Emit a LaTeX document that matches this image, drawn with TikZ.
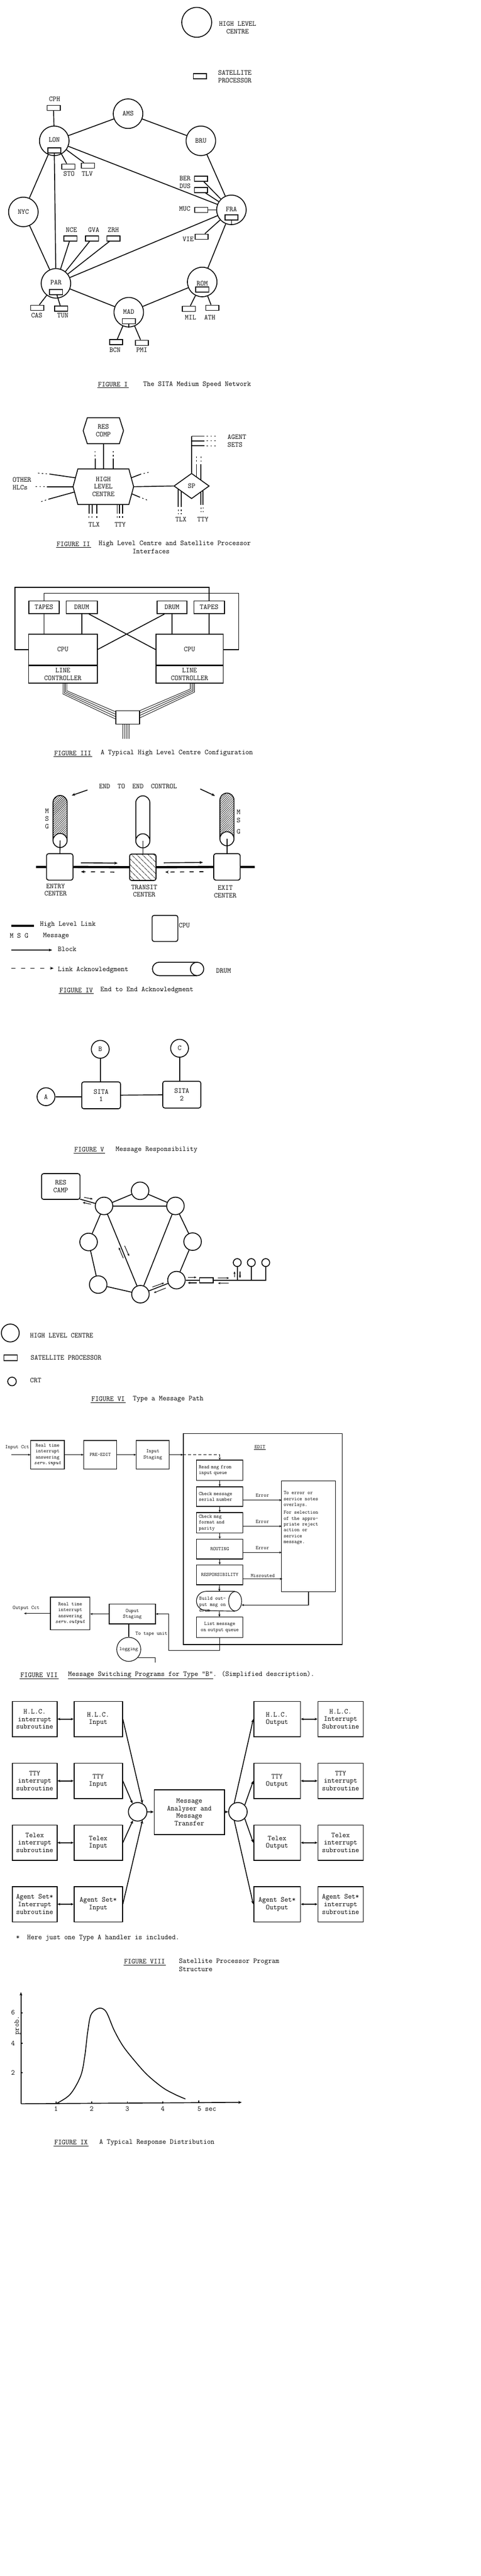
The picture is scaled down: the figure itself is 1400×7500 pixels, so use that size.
\documentclass[tikz,border=0pt]{standalone}
\usepackage{fontspec}
\usetikzlibrary{calc}
\usetikzlibrary{positioning}
\usetikzlibrary{arrows.meta}
\usetikzlibrary{shapes.geometric}
\usetikzlibrary{patterns.meta}

\newcommand\hexoutline[2]{\draw ([xshift=#2]#1.north west) -- ([xshift=-#2]#1.north east) -- (#1.east) -- ([xshift=-#2]#1.south east) -- ([xshift=#2]#1.south west) -- (#1.west) -- cycle;}
\newcommand\drumup[5]{\draw[#5] (#2-20.5,#4) -- (#2-20.5,#3+20.5) arc[start angle=180, end angle=360, radius=20.5] -- (#2+20.5,#4);
  \node[circle, draw, fill=white, minimum size=41pt, inner sep=0pt] (#1) at (#2,#4) {};}

\begin{document}
\begin{tikzpicture}[x=1pt, y=-1pt, line width=2.5pt,
  font=\fontsize{21}{22}\selectfont\ttfamily,
  hlc/.style={circle, draw, minimum size=86pt, inner sep=0pt},
  hlcs/.style={circle, draw, minimum size=51pt, inner sep=0pt},
  sat/.style={rectangle, draw, minimum width=38pt, minimum height=15pt, inner sep=0pt},
  box/.style={rectangle, draw, inner sep=0pt, align=center},
  cpu/.style={rectangle, draw, rounded corners=6pt, minimum width=77pt, minimum height=77pt, inner sep=0pt, align=center},
  figtag/.style={inner xsep=1pt, append after command={([yshift=-4pt]\tikzlastnode.base west) edge[line width=1.5pt] ([yshift=-4pt]\tikzlastnode.base east)}},
  blk/.style={-{Stealth[length=10pt, width=8pt]}},
  ack/.style={blk, dash pattern=on 12pt off 16pt},
  dbl/.style={{Stealth[length=8pt, width=7pt]}-{Stealth[length=8pt, width=7pt]}},
  dots/.style={line width=1.8pt, dash pattern=on 4pt off 7pt, dash phase=4pt},
  flow/.style={-{Stealth[length=7pt, width=6pt]}, line width=1.6pt},
  pa/.style={-{Stealth[length=7pt, width=6pt]}}]
\path[use as bounding box, fill=white] (0,0) rectangle (1400,7500);

\node[hlc, minimum size=87pt] (keyHLC) at (573,65) {};
\node[align=center] at (692,81) {HIGH LEVEL\\CENTRE};
\node[sat] (keySP) at (582,222) {};
\node[align=center] at (684,223) {SATELLITE\\PROCESSOR};
\foreach \n/\x/\y in {AMS/373/331, LON/158/410, BRU/585/410, NYC/68/617, FRA/674/611, PAR/163/825, ROM/589/821, MAD/375/909}
  \node[hlc] (\n) at (\x,\y) {};
\foreach \n in {AMS,BRU,NYC}
  \node at (\n) {\n};
\foreach \n/\dy/\dr in {LON/-3/28, FRA/-2/22, PAR/-3/25, ROM/4/22, MAD/-1/26}
{
  \node at ($(\n)+(0,\dy)$) {\n};
  \node[sat] (sp\n) at ($(\n)+(0,\dr)$) {};
}
\foreach \n/\x/\y/\lx/\ly in {CPH/156/314/159/288, STO/199/485/201/506, TLV/256/482/254/506, BER/585/520/539/520, DUS/585/553/539/542, MUC/586/611/538/608, VIE/587/689/548/697, NCE/205/694/208/669, GVA/268/694/273/670, ZRH/330/694/330/670, CAS/108/896/107/918, TUN/178/898/183/919, MIL/550/899/555/924, ATH/618/896/611/924, BCN/338/996/335/1019, PMI/413/998/413/1019}
{
  \node[sat] (\n) at (\x,\y) {};
  \node at (\lx,\ly) {\n};
}
\draw (LON) -- (AMS) -- (BRU) -- (FRA) -- (ROM) -- (MAD) -- (PAR) -- (NYC) -- (LON);
\draw (LON) -- (FRA);
\draw (PAR) -- (FRA);
\draw (spLON) -- (PAR);
\draw (CPH) -- (LON);
\draw (LON) -- (STO);
\draw (LON) -- (TLV);
\foreach \n in {BER,DUS,MUC,VIE}
  \draw (\n) -- (FRA);
\foreach \n in {NCE,GVA,ZRH,CAS}
  \draw (\n) -- (PAR);
\draw (spPAR) -- (TUN);
\draw (spFRA) -- (spFRA |- FRA.south);
\draw (spMAD) -- (spMAD |- MAD.south);
\draw (ROM) -- (MIL);
\draw (ROM) -- (ATH);
\draw (MAD) -- (BCN);
\draw (MAD) -- (PMI);
\node[figtag] at (329,1119) {FIGURE I};
\node at (574,1120) {The SITA Medium Speed Network};

\node[minimum width=115pt, minimum height=73pt, align=center] (rescomp) at (301,1254) {RES\\COMP};
\hexoutline{rescomp}{12pt}
\node[minimum width=174pt, minimum height=101pt, align=center] (centre) at (301,1417) {HIGH\\LEVEL\\CENTRE};
\hexoutline{centre}{14pt}
\node[diamond, draw, aspect=1.4, minimum width=103pt, minimum height=74pt, inner sep=0pt] (sp) at (558,1415) {SP};
\draw (rescomp) -- (centre);
\foreach \dx in {-24,29}
{
  \draw ([xshift=\dx pt]centre.north) -- ++(0,-30) coordinate (t);
  \draw[dots] (t) -- ++(0,-21);
}
\draw ($(centre.west)!0.5!([xshift=14pt]centre.north west)$) -- ++(-76,-11) coordinate (o1);
\draw[dots] (o1) -- ++(-36,-3);
\draw (centre.west) -- ++(-76,0) coordinate (o2);
\draw[dots] (o2) -- ++(-35,0);
\draw ($(centre.west)!0.3!([xshift=14pt]centre.south west)$) -- ++(-76,21) coordinate (o3);
\draw[dots] (o3) -- ++(-27,9);
\draw ($(centre.east)!0.5!([xshift=-14pt]centre.north east)$) -- ++(29,-11) coordinate (o4);
\draw[dots] (o4) -- ++(22,-5);
\draw ($(centre.east)!0.4!([xshift=-14pt]centre.south east)$) -- ++(24,10) coordinate (o5);
\draw[dots] (o5) -- ++(23,9);
\node[align=left] at (64,1408) {OTHER\\HLCs};
\draw (centre.east) -- (sp.west);
\draw (sp.north) -- ++(0,-107) coordinate (ag1);
\foreach \dy in {0,14,28}
{
  \draw ([yshift=-\dy pt]ag1) -- ++(37,0) coordinate (ag);
  \draw[dots] (ag) -- ++(37,0);
}
\node[align=left] at (690,1284) {AGENT\\SETS};
\draw ($(sp.north)!0.27!(sp.east)$) -- ++(0,-36) coordinate (u1);
\draw[dots] (u1) -- ++(0,-22);
\draw ($(sp.north)!0.52!(sp.east)$) -- ++(0,-45) coordinate (u2);
\draw[dots] (u2) -- ++(0,-22);
\draw ($(sp.west)!0.27!(sp.south)$) -- ++(0,51) coordinate (d1);
\draw[dots] (d1) -- ++(0,21);
\draw ($(sp.west)!0.43!(sp.south)$) -- ++(0,45) coordinate (d2);
\draw[dots] (d2) -- ++(0,21);
\draw ($(sp.east)!0.48!(sp.south)$) -- ++(0,37) coordinate (d3);
\draw[dots] (d3) -- ++(0,21);
\draw ($(sp.east)!0.37!(sp.south)$) -- ++(0,41) coordinate (d4);
\draw[dots] (d4) -- ++(0,21);
\node at (527,1513) {TLX};
\node at (591,1513) {TTY};
\foreach \dx in {-42,-33,-19,40,47,56}
{
  \draw ([xshift=\dx pt]centre.south) -- ++(0,27) coordinate (b);
  \draw[dots] (b) -- ++(0,16);
}
\node at (274,1527) {TLX};
\node at (350,1527) {TTY};
\node[figtag] at (214,1584) {FIGURE II};
\node at (509,1583) {High Level Centre and Satellite Processor};
\node at (440,1605) {Interfaces};

\node[box, minimum width=88pt, minimum height=37pt] (tapesL) at (128,1768) {TAPES};
\node[box, minimum width=91pt, minimum height=37pt] (drumL) at (238,1768) {DRUM};
\node[box, minimum width=87pt, minimum height=37pt] (drumR) at (501,1768) {DRUM};
\node[box, minimum width=89pt, minimum height=37pt] (tapesR) at (609,1768) {TAPES};
\node[box, minimum width=200pt, minimum height=89pt] (cpuL) at (183,1891) {CPU};
\node[box, minimum width=200pt, minimum height=51pt, anchor=north] (lcL) at (cpuL.south) {LINE\\CONTROLLER};
\node[box, minimum width=196pt, minimum height=89pt] (cpuR) at (552,1891) {CPU};
\node[box, minimum width=196pt, minimum height=51pt, anchor=north] (lcR) at (cpuR.south) {LINE\\CONTROLLER};
\node[box, minimum width=69pt, minimum height=39pt] (mux) at (371.5,2088.5) {};
\draw (tapesL) -- (tapesL |- cpuL.north);
\draw (drumL) -- (drumL |- cpuL.north);
\draw (drumR) -- (drumR |- cpuR.north);
\draw (tapesR) -- (tapesR |- cpuR.north);
\coordinate (loopA) at (43,1710);
\coordinate (loopB) at (695,1727);
\draw (cpuL.west) -| (loopA) -| (tapesR);
\draw (cpuR.east) -| (loopB) -| (tapesL);
\draw ([xshift=21pt]drumL.south) -- (cpuR.west);
\draw ([xshift=-22pt]drumR.south) -- (cpuL.east);
\foreach \i in {0,...,3}
{
  \draw[line width=1.3pt] ([xshift={4*\i*1pt}]lcL.south) -- ++(0,{30-3*\i}) -- ([shift={(0,{4.5-7*\i})}]mux.west);
  \draw[line width=1.3pt] ([xshift={(2+4*\i)*1pt}]lcR.south) -- ++(0,{16+3*\i}) -- ([shift={(0,{-19.5+7*\i})}]mux.east);
  \draw[line width=1.3pt] ([xshift={(6*\i-14)*1pt}]mux.south) -- ++(0,42);
}
\node[figtag] at (212,2193) {FIGURE III};
\node at (515,2193) {A Typical High Level Centre Configuration};

\node (e2e) at (402,2289) {END\ \ TO\ \ END\ \ CONTROL};
\draw[blk] ([shift={(-29,11)}]e2e.west) -- ++(-46,16);
\draw[blk] ([shift={(63,8)}]e2e.east) -- ++(43,20);
\drumup{drumE}{175}{2316}{2447}{pattern={Lines[angle=45, distance=4.5pt, line width=1.1pt]}}
\drumup{drumT}{416}{2317}{2448}{}
\drumup{drumX}{661}{2309}{2442}{pattern={Lines[angle=45, distance=4.5pt, line width=1.1pt]}}
\node[align=center] at (137,2384) {M\\S\\G};
\node[align=center] at (695,2393) {M\\[2pt]S\\[10pt]G};
\node[cpu] (entry) at (174,2524) {};
\node[cpu, pattern={Lines[angle=-45, distance=13pt, line width=1.5pt]}] (transit) at (416,2525) {};
\node[cpu] (exit) at (661,2524) {};
\draw (drumE.center) -- (entry);
\draw (drumT.center) -- (transit);
\draw (drumX.center) -- (exit);
\coordinate (linkW) at (105,2524);
\coordinate (linkE) at (742,2524);
\draw[line width=6.5pt] (linkW) -- (entry) (entry) -- (transit) (transit) -- (exit) (exit) -- (linkE);
\draw[blk] ([shift={(22,-12)}]entry.east) -- ([shift={(-34,-12)}]transit.west);
\draw[ack] ([shift={(-44,14)}]transit.west) -- ([shift={(22,14)}]entry.east);
\draw[blk] ([shift={(22,-13)}]transit.east) -- ([shift={(-30,-13)}]exit.west);
\draw[ack] ([shift={(-29,14)}]exit.west) -- ([shift={(26,14)}]transit.east);
\node[align=center] at (162,2591) {ENTRY\\CENTER};
\node[align=center] at (420,2594) {TRANSIT\\CENTER};
\node[align=center] at (656,2596) {EXIT\\CENTER};
\coordinate (keyL) at (33,2695);
\draw[line width=6.5pt] (keyL) -- ++(66,0);
\node[anchor=west] at (112,2692) {High Level Link};
\node[anchor=west] at (24,2724) {M S G};
\node[anchor=west] at (121,2725) {Message};
\coordinate (keyB) at (33,2766);
\draw[blk] (keyB) -- ++(119,0);
\node[anchor=west] at (164,2764) {Block};
\coordinate (keyA) at (33,2819);
\draw[ack] (keyA) -- ++(123,0);
\node[anchor=west] at (164,2824) {Link Acknowledgment};
\node[cpu, minimum width=75pt, minimum height=76pt] (keyCPU) at (480.5,2703) {};
\node[anchor=west] at (516,2694) {CPU};
\draw (574,2801.5) -- (463.5,2801.5) arc[start angle=270, end angle=90, radius=19.5] -- (574,2840.5);
\node[circle, draw, minimum size=39pt, inner sep=0pt] (keyDrum) at (574,2821) {};
\node[anchor=west] at (625,2827) {DRUM};
\node[figtag] at (222,2883) {FIGURE IV};
\node at (428,2883) {End to End Acknowledgment};

\node[circle, draw, minimum size=52pt, inner sep=0pt] (B) at (292,3055) {B};
\node[circle, draw, minimum size=52pt, inner sep=0pt] (C) at (523,3052) {C};
\node[circle, draw, minimum size=52pt, inner sep=0pt] (A) at (134,3193) {A};
\node[cpu, minimum width=113pt, minimum height=78pt] (sita1) at (294.5,3189) {SITA\\1};
\node[cpu, minimum width=111pt, minimum height=78pt] (sita2) at (529.5,3187) {SITA\\2};
\draw (B) -- (B |- sita1.north);
\draw (C) -- (C |- sita2.north);
\draw (A) -- (A -| sita1.west);
\draw (sita1) -- (sita2);
\node[figtag] at (260,3347) {FIGURE V};
\node at (456,3347) {Message Responsibility};

\node[cpu, minimum width=112pt, minimum height=75pt] (rescamp) at (177,3454.5) {RES\\CAMP};
\foreach \n/\x/\y in {h1/408/3467, h2/303/3511, h3/511/3511, h4/258/3616, h5/561/3615, h6/286/3740, h7/409/3768, h8/514/3727}
  \node[hlcs] (\n) at (\x,\y) {};
\draw ([shift={(-1,-2)}]rescamp.south east) -- (h2);
\foreach \a/\b in {h1/h2, h1/h3, h2/h3, h2/h4, h2/h7, h3/h5, h3/h7, h4/h6, h6/h7, h5/h8, h7/h8}
  \draw (\a) -- (\b);
\node[sat, minimum width=40pt] (spVI) at (601,3727) {};
\draw (h8) -- (spVI);
\foreach \n/\x in {crt1/691, crt2/732, crt3/774}
  \node[circle, draw, minimum size=23pt, inner sep=0pt] (\n) at (\x,3676) {};
\draw (spVI.east) -| (crt3);
\draw (crt1) -- (crt1 |- spVI.east);
\draw (crt2) -- (crt2 |- spVI.east);
\foreach \sx/\sy/\ex/\ey in {245/3486/270/3491, 265/3506/241/3501, 359/3663/346/3632, 363/3627/376/3657, 444/3747/478/3735, 483/3750/448/3764, 548/3719/572/3719, 573/3735/547/3735, 635/3721/667/3721, 666/3736/635/3736, 683/3718/683/3702, 699/3702/699/3721}
  \draw[flow] (\sx,\sy) -- (\ex,\ey);
\node[circle, draw, minimum size=52pt, inner sep=0pt] (keyH) at (30,3881) {};
\node[anchor=west] at (83,3888) {HIGH LEVEL CENTRE};
\node[sat, minimum width=39pt, minimum height=16pt] (keyS) at (30.5,3953) {};
\node[anchor=west] at (85,3953) {SATELLITE PROCESSOR};
\node[circle, draw, minimum size=25pt, inner sep=0pt] (keyC) at (35,4022) {};
\node[anchor=west] at (83,4019) {CRT};
\node[figtag] at (315,4073) {FIGURE VI};
\node at (490,4073) {Type a Message Path};

\begin{scope}[font=\fontsize{15}{17}\selectfont\ttfamily, line width=1.7pt]
\node at (50,4214) {Input Cct};
\coordinate (incct) at (33,4235.5);
\node[box, minimum width=98pt, minimum height=83pt] (rtin) at (138.5,4235.5) {Real time\\interrupt\\answering\\\textit{serv.input}};
\node[box, minimum width=96pt, minimum height=83pt] (preedit) at (292,4235.5) {PRE-EDIT};
\node[box, minimum width=96pt, minimum height=83pt] (instage) at (445,4235.5) {Input\\Staging};
\node[draw, minimum width=463pt, minimum height=614pt] (edit) at (765.5,4481) {};
\node[figtag] at (757,4212) {EDIT};
\draw[pa] (incct) -- (rtin);
\draw[pa] (rtin) -- (preedit);
\draw[pa] (preedit) -- (instage);
\draw[pa] (instage) -- (instage -| edit.west);
\foreach \n/\y/\h/\al/\t in {readmsg/4280.5/59/left/{Read msg from\\input queue}, chkser/4357.5/57/left/{Check message\\serial number}, chkfmt/4433.5/59/left/{Check msg\\format and\\parity}, routing/4510/58/center/{ROUTING}, respons/4585/58/center/{RESPONSIBILITY}, listq/4738/60/center/{List message\\on output queue}}
  \node[box, minimum width=135pt, minimum height=\h pt, text width=122pt, align=\al] (\n) at (640,\y) {\t};
\draw[pa, dash pattern=on 8pt off 7pt] (instage -| edit.west) -| (readmsg);
\foreach \a/\b in {readmsg/chkser, chkser/chkfmt, chkfmt/routing, routing/respons}
  \draw[pa] (\a) -- (\b);
\node[minimum width=130pt, minimum height=56pt, inner sep=0pt] (bld) at (638,4662) {};
\draw ([xshift=-19pt]bld.north east) -- ([xshift=28pt]bld.north west) arc[start angle=-90, end angle=-270, radius=28] -- ([xshift=-19pt]bld.south east);
\draw ([xshift=-19pt]bld.east) ellipse [x radius=19, y radius=28];
\node[align=left] at (619,4671) {Build out-\\put msg on\\drum};
\draw[pa] (respons) -- (bld);
\draw[pa] (bld) -- (listq);
\node[box, minimum width=157pt, minimum height=322pt] (errbox) at (898.5,4473) {};
\node[anchor=north west, align=left] at (822,4338) {To error or\\service notes\\overlays.\\[6pt]For selection\\of the appro-\\priate reject\\action or\\service\\message.};
\draw[pa] ([shift={(0,10)}]chkser.east) -- ++(112,0) node[midway, above=5pt] {Error};
\draw[pa] ([shift={(0,10)}]chkfmt.east) -- ++(112,0) node[midway, above=5pt] {Error};
\draw[pa] ([shift={(0,10)}]routing.east) -- ++(112,0) node[midway, above=5pt] {Error};
\draw[pa] ([shift={(0,12)}]respons.east) -- ++(114,0) node[midway, above=1pt] {Misrouted};
\draw[pa] (errbox.south) |- ([shift={(0,11)}]bld.east);
\node[box, minimum width=135pt, minimum height=58pt] (outstg) at (385.5,4699) {Ouput\\Staging};
\coordinate (ret) at (491,4805);
\draw[pa] (listq) |- (ret) |- (outstg);
\node[box, minimum width=115pt, minimum height=95pt] (rtout) at (204.5,4697.5) {Real time\\interrupt\\answering\\\textit{serv.output}};
\draw[pa] (outstg.west) -- (outstg.west -| rtout.east);
\coordinate (outcct) at (70,4707);
\draw[pa] (rtout.west) -- (rtout.west -| outcct);
\node at (76,4682) {Output Cct};
\node[circle, draw, minimum size=70pt, inner sep=0pt] (logging) at (375,4802) {logging};
\draw (logging.north |- outstg.south) -- (logging.north);
\draw (logging.-42) -- ++(50,0) -- ++(0,14);
\node at (441,4758) {To tape unit};
\end{scope}
\node[figtag] at (114,4877) {FIGURE VII};
\node[anchor=west] at (194,4877) {\underline{Message Switching Programs for Type "B"}. (Simplified description).};

\foreach \r/\y/\ta/\tb/\tc/\td in {1/5005/{H.L.C.\\interrupt\\subroutine}/{H.L.C.\\Input}/{H.L.C.\\Output}/{H.L.C.\\Interrupt\\Subroutine}, 2/5185/{TTY\\interrupt\\subroutine}/{TTY\\Input}/{TTY\\Output}/{TTY\\interrupt\\subroutine}, 3/5365/{Telex\\interrupt\\subroutine}/{Telex\\Input}/{Telex\\Output}/{Telex\\interrupt\\subroutine}, 4/5544/{Agent Set*\\Interrupt\\subroutine}/{Agent Set*\\Input}/{Agent Set*\\Output}/{Agent Set*\\interrupt\\subroutine}}
{
  \node[box, minimum width=130pt, minimum height=103pt] (ia\r) at (101,\y) {\ta};
  \node[box, minimum width=141pt, minimum height=103pt] (in\r) at (286,\y) {\tb};
  \node[box, minimum width=136pt, minimum height=103pt] (out\r) at (807,\y) {\tc};
  \node[box, minimum width=132pt, minimum height=103pt] (ib\r) at (992,\y) {\td};
  \draw[dbl] (ia\r) -- (in\r);
  \draw[dbl] (out\r) -- (ib\r);
}
\node[circle, draw, minimum size=54pt, inner sep=0pt] (mixL) at (401,5275) {};
\node[circle, draw, minimum size=54pt, inner sep=0pt] (mixR) at (693,5275) {};
\node[box, minimum width=205pt, minimum height=130pt] (msa) at (551.5,5276) {Message\\Analyser and\\Message\\Transfer};
\foreach \r/\a in {1/60, 2/122, 3/-119, 4/-60}
  \draw[blk] (in\r.east) -- (mixL.\a);
\foreach \r/\a in {1/112, 2/45, 3/-45, 4/-112}
  \draw[blk] (mixR.\a) -- (out\r.west);
\draw[blk] (mixL) -- (msa);
\draw[blk] (msa) -- (mixR);
\node[anchor=west] at (42,5643) {*\ \ Here just one Type A handler is included.};
\node[figtag] at (421,5711) {FIGURE VIII};
\node[anchor=west] at (517,5711) {Satellite Processor Program};
\node[anchor=west] at (517,5733) {Structure};

\coordinate (org) at (61,6125);
\coordinate (ytip) at (61,5800);
\coordinate (xtip) at (704,6121);
\draw[blk] (org) -- (ytip);
\draw[blk] (org) -- (xtip);
\foreach \x/\t in {163/1, 267/2, 371/3, 474/4}
{
  \draw (\x,6124) -- ++(0,-6);
  \node at (\x,6140) {\t};
}
\draw (579,6122) -- ++(0,-6);
\node[anchor=west] at (571,6140) {5 sec};
\foreach \y/\t in {5860/6, 5949/4, 6034/2}
{
  \draw (61,\y) -- ++(5,0);
  \node at (38,\y) {\t};
}
\node[rotate=90] at (51,5897) {prob.};
\draw plot[smooth, tension=0.55] coordinates {(163,6125) (204,6098) (235,6044) (247,5986) (255,5919) (265,5866) (288,5847) (309,5857) (332,5910) (357,5955) (388,5995) (428,6040) (474,6078) (510,6098) (540,6111)};
\node[figtag] at (207,6238) {FIGURE IX};
\node at (457,6238) {A Typical Response Distribution};
\end{tikzpicture}
\end{document}
